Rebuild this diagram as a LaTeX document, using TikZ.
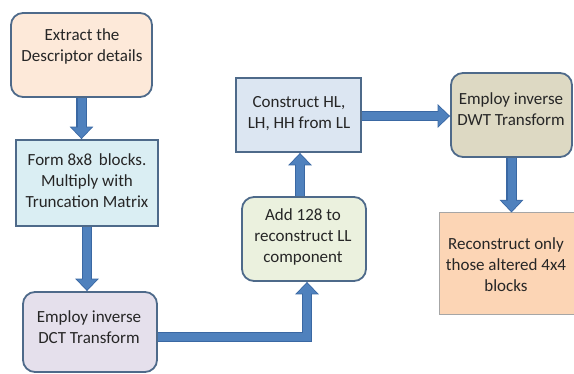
\documentclass[tikz,border=0pt]{standalone}
\usepackage{fontspec}
\setmainfont{Carlito}
\usetikzlibrary{arrows.meta,calc}

\definecolor{arrowfill}{HTML}{4F81BD}
\definecolor{arrowedge}{HTML}{3A68A3}
\definecolor{boxedge}{HTML}{4E6A8A}
\definecolor{textgray}{HTML}{262626}
\definecolor{fillA}{HTML}{FDE9D9}
\definecolor{fillB}{HTML}{DAEEF3}
\definecolor{fillC}{HTML}{E5E0EC}
\definecolor{fillD}{HTML}{EBF1DE}
\definecolor{fillE}{HTML}{DCE6F2}
\definecolor{fillF}{HTML}{DDD9C3}
\definecolor{fillG}{HTML}{FCD5B5}

% block arrow drawn in two passes: dark rim, then lighter body
\newcommand{\flowarrow}[1]{%
  \draw[line width=10.5pt, arrowedge, -{Triangle[width=23pt,length=12.5pt]}] #1;
  \draw[line width=8pt, arrowfill, shorten >=1.3pt, -{Triangle[width=19.5pt,length=10.5pt]}] #1;
}

\begin{document}
\begin{tikzpicture}[x=1pt,y=-1pt,
  txt/.style={text=textgray, align=center, font=\fontsize{17}{21}\selectfont, inner sep=0pt},
  roundbox/.style={draw=boxedge, line width=1.8pt, rounded corners=12pt},
  squarebox/.style={draw=boxedge, line width=1.8pt}]
\useasboundingbox (0,0) rectangle (574,374);

% boxes
\node[roundbox, fill=fillA, minimum width=141pt, minimum height=84pt] (extract) at (81.5,55) {};
\node[squarebox, fill=fillB, minimum width=142pt, minimum height=86pt] (form) at (87,183) {};
\node[roundbox, fill=fillC, minimum width=134pt, minimum height=80pt] (idct) at (90,332) {};
\node[roundbox, fill=fillD, minimum width=124pt, minimum height=84pt] (add) at (304,239) {};
\node[squarebox, fill=fillE, minimum width=125pt, minimum height=74pt] (construct) at (298.5,115) {};
\node[roundbox, fill=fillF, minimum width=121pt, minimum height=84pt] (idwt) at (511.5,115) {};
\node[draw=gray!70, line width=1pt, fill=fillG, minimum width=137pt, minimum height=102pt] (recon) at (507.5,264) {};

% box texts
\node[txt] (extract-t) at (82,46.5) {Extract the\\Descriptor details};
\node[txt] (form-t) at (87,181) {Form 8x8 \,blocks.\\Multiply with\\Truncation Matrix};
\node[txt] (idct-t) at (89,327.5) {Employ inverse\\DCT Transform};
\node[txt] (add-t) at (303,237) {Add 128 to\\reconstruct LL\\component};
\node[txt] (construct-t) at (299,114) {Construct HL,\\LH, HH from LL};
\node[txt] (idwt-t) at (511,109) {Employ inverse\\DWT Transform};
\node[txt] (recon-t) at (506,265) {Reconstruct only\\those altered 4x4\\blocks};

% connectors
\coordinate (bend) at (307,337);
\coordinate (upfoot) at ($(add.north)+(-4,0)$);
\coordinate (uphead) at (upfoot |- construct.south);
\coordinate (rfoot) at (construct.east |- 0,116);
\coordinate (rhead) at (idwt.west |- 0,116);

\flowarrow{(extract.south) -- (extract.south |- form.north)}
\flowarrow{(form.south) -- (form.south |- idct.north)}
\flowarrow{(idct.east |- bend) -- (bend) -- (bend |- add.south)}
\flowarrow{(upfoot) -- (uphead)}
\flowarrow{(rfoot) -- (rhead)}
\flowarrow{(idwt.south) -- (idwt.south |- recon.north)}
\end{tikzpicture}
\end{document}
